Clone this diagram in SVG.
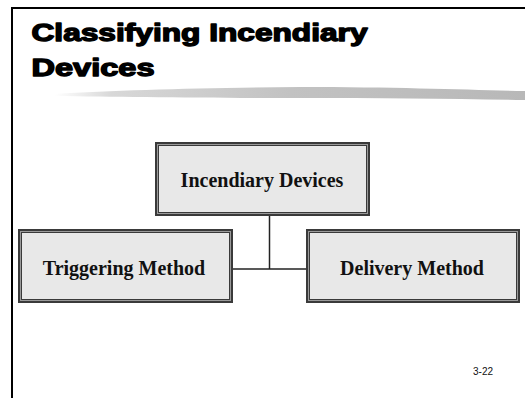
<svg xmlns="http://www.w3.org/2000/svg" width="525" height="398" viewBox="0 0 525 398">
<defs>
<style>
.frame{fill:#e8e8e8;stroke:#3a3a3a;stroke-width:4}
.inner{fill:none;stroke:#9a9a9a;stroke-width:1}
.lbl{font-family:"Liberation Serif","Times New Roman",serif;font-weight:bold;font-size:20px;fill:#111}
.title{font-family:"Liberation Sans",Arial,sans-serif;font-weight:900;font-size:24.5px;fill:#000;stroke:#000;stroke-width:1.4;stroke-linejoin:round}
.conn{stroke:#222;stroke-width:1.5;fill:none}
</style>
<linearGradient id="brush" x1="0" y1="0" x2="1" y2="0">
<stop offset="0" stop-color="#ffffff"/>
<stop offset="0.12" stop-color="#d8d8d8"/>
<stop offset="0.5" stop-color="#c2c2c2"/>
<stop offset="1" stop-color="#b8b8b8"/>
</linearGradient>
</defs>
<rect width="525" height="398" fill="#fff"/>
<g id="page-border">
<path d="M12 398 V8 H525" fill="none" stroke="#000" stroke-width="2"/>
</g>
<g id="title">
<text class="title" x="31.5" y="41" textLength="336" lengthAdjust="spacingAndGlyphs">Classifying Incendiary</text>
<text class="title" x="31.5" y="76" textLength="123" lengthAdjust="spacingAndGlyphs">Devices</text>
</g>
<g id="brush-stroke">
<path d="M55 94 C120 90 200 88 300 87 C400 87 470 90 525 91 L525 100 C460 99 380 98 300 98 C200 98 120 97 55 96 Z" fill="url(#brush)"/>
</g>
<g id="connectors">
<line class="conn" x1="269.5" y1="216" x2="269.5" y2="269"/>
<line class="conn" x1="233" y1="269" x2="306" y2="269"/>
</g>
<g id="node-incendiary">
<rect class="frame" x="157" y="144" width="211" height="70"/>
<rect class="inner" x="157.5" y="144.5" width="210" height="69"/>
<text class="lbl" x="262" y="187" text-anchor="middle">Incendiary Devices</text>
</g>
<g id="node-triggering">
<rect class="frame" x="20" y="231" width="211" height="70"/>
<rect class="inner" x="20.5" y="231.5" width="210" height="69"/>
<text class="lbl" x="124" y="275" text-anchor="middle">Triggering Method</text>
</g>
<g id="node-delivery">
<rect class="frame" x="308" y="231" width="210" height="70"/>
<rect class="inner" x="308.5" y="231.5" width="209" height="69"/>
<text class="lbl" x="412" y="275" text-anchor="middle">Delivery Method</text>
</g>
<g id="page-number">
<text x="473" y="375" font-family="'Liberation Sans',Arial,sans-serif" font-size="10" fill="#111">3-22</text>
</g>
</svg>
